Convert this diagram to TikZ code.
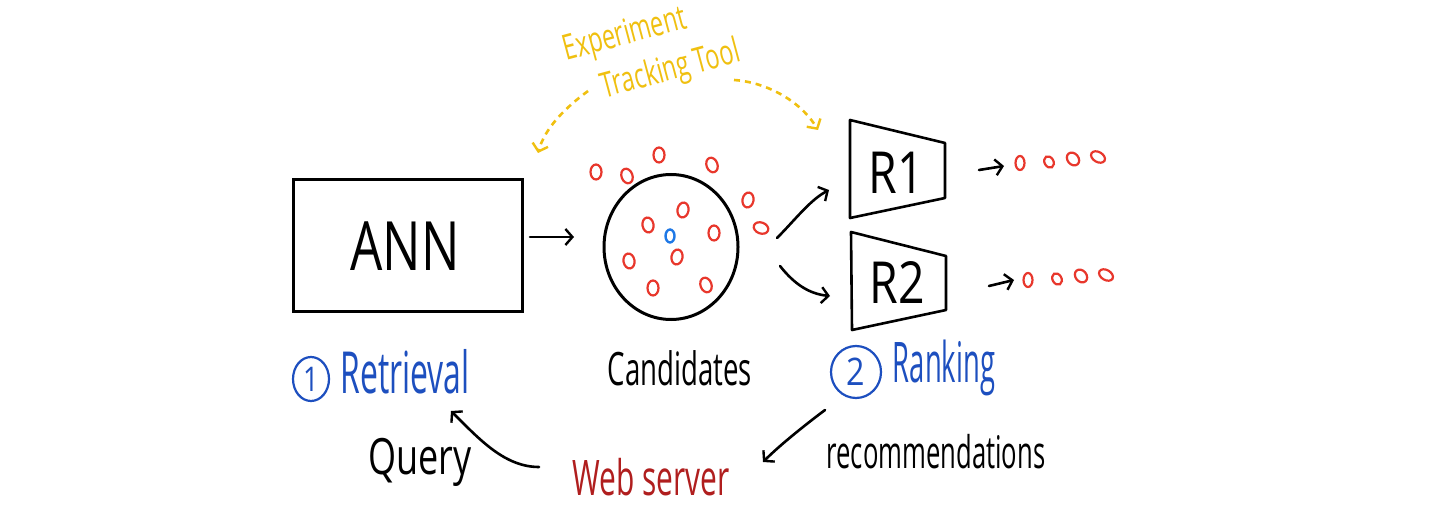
\documentclass[tikz,border=0pt]{standalone}
\usepackage{fontspec}
\usepackage{graphicx}
\setmainfont{Open Sans}
\usetikzlibrary{arrows.meta,shapes.geometric}
\definecolor{dotred}{HTML}{E8372C}
\definecolor{dotblue}{HTML}{1E78E6}
\definecolor{labblue}{HTML}{1D4FBF}
\definecolor{trackyellow}{HTML}{F0C010}
\definecolor{webred}{HTML}{B01E1E}
\newcommand\hwtext[3]{\fontsize{#1}{#1}\selectfont\scalebox{#2}[1]{#3}}
\tikzset{
  pen/.style={line width=2.6pt, line cap=round, line join=round},
  arr/.style={pen, -{Straight Barb[length=7pt,width=16pt,line width=2.4pt]}},
  dasharr/.style={line width=2.6pt, trackyellow, dash pattern=on 6pt off 5pt, -{Straight Barb[length=7pt,width=16pt,line width=2.4pt]}},
  dot/.style={line width=2.2pt, dotred},
  lab/.style={inner sep=0pt, anchor=center},
  numcirc/.style={ellipse, draw=labblue, line width=2.2pt, text=labblue, inner sep=0pt}
}
\begin{document}
\begin{tikzpicture}[x=1pt,y=-1pt]
\fill[white] (0,0) rectangle (1445,518);
\useasboundingbox (0,0) rectangle (1445,518);

% ANN box
\node[draw, line width=3pt, minimum width=229pt, minimum height=132pt, inner sep=0pt] (ann) at (407.5,246) {};
\node[lab] (anntext) at (405,246) {\hwtext{68}{0.75}{ANN}};

% candidates circle
\node[ellipse, draw, line width=3pt, minimum width=134pt, minimum height=145pt, inner sep=0pt] (cand) at (671,247) {};
\node[lab] (candlab) at (680,368) {\hwtext{46}{0.6}{Candidates}};

% arrow ANN -> candidates
\coordinate (a1s) at (530,237);
\coordinate (a1e) at (574,237);
\draw[arr] (a1s) -- (a1e);

% red dots
\foreach \x/\y/\r in {596/172/0, 627/176/20, 659/155/0, 712/165/20, 748/200/-10, 761/228/70,
                      648/225/10, 683/210/-10, 714/233/0, 629/261/10, 677/257/-10, 653/288/0, 706/285/20}
  \draw[dot, rotate around={\r:(\x,\y)}] (\x,\y) ellipse (5.5pt and 7.5pt);
\draw[line width=2.4pt, dotblue] (670,236) ellipse (4.5pt and 6.5pt);

% rankers
\draw[pen] (850,120) -- (945,143) -- (945,198) -- (850,218) -- cycle;
\draw[pen] (851,232) -- (946,256) -- (946,310) -- (852,330) -- cycle;
\node[lab] (r1) at (896,173) {\hwtext{58}{0.8}{R1}};
\node[lab] (r2) at (897,283) {\hwtext{58}{0.8}{R2}};

% arrows candidates -> rankers
\coordinate (c2r1s) at (777,238);
\coordinate (c2r1e) at (829,190);
\coordinate (c2r2s) at (780,266);
\coordinate (c2r2e) at (830,296);
\draw[arr] (c2r1s) .. controls (795,220) and (810,200) .. (c2r1e);
\draw[arr] (c2r2s) .. controls (795,285) and (810,294) .. (c2r2e);

% outputs
\coordinate (o1s) at (979,170);
\coordinate (o1e) at (1004,166);
\coordinate (o2s) at (989,286);
\coordinate (o2e) at (1014,280);
\draw[arr] (o1s) -- (o1e);
\draw[arr] (o2s) -- (o2e);
\foreach \x/\y/\r/\a/\b in {1020/163/0/4.5/7, 1049/162/30/4.5/6, 1073/159/40/5.5/7, 1098/157/60/5/7.5,
                            1028/280/0/4.5/7, 1057/279/30/4.5/6, 1081/276/40/5.5/7, 1106/275/60/5/7.5}
  \draw[dot, rotate around={\r:(\x,\y)}] (\x,\y) ellipse (\a pt and \b pt);

% stage labels
\node[numcirc, minimum width=36pt, minimum height=44pt] (n1) at (311,379) {\hwtext{34}{0.8}{1}};
\node[lab, text=labblue] (retr) at (405,372) {\hwtext{58}{0.55}{Retrieval}};
\node[numcirc, minimum width=50pt, minimum height=52pt] (n2) at (856,372) {\hwtext{38}{0.85}{2}};
\node[lab, text=labblue] (rank) at (944,368) {\hwtext{56}{0.49}{Ranking}};

% experiment tracking tool
\node[lab, text=trackyellow, rotate=15] (ett) at (652,52)
  {\fontsize{35}{46}\selectfont\scalebox{0.67}[1]{\begin{tabular}{@{}l@{}}Experiment\\\hspace*{40pt}Tracking Tool\end{tabular}}};
\coordinate (dl1) at (588,91);
\coordinate (dl2) at (538,153);
\coordinate (dr1) at (734,80);
\coordinate (dr2) at (818,130);
\draw[dasharr] (dl1) .. controls (565,108) and (545,128) .. (dl2);
\draw[dasharr] (dr1) .. controls (765,82) and (800,100) .. (dr2);

% bottom: web server loop
\node[lab, text=webred] (web) at (651,477) {\hwtext{49}{0.61}{Web server}};
\node[lab] (query) at (420,462) {\hwtext{50}{0.72}{Query}};
\node[lab] (recs) at (936,452) {\hwtext{45}{0.57}{recommendations}};
\coordinate (q1) at (539,467);
\coordinate (q2) at (451,411);
\draw[arr] (q1) .. controls (505,467) and (480,440) .. (q2);
\coordinate (w1) at (825,410);
\coordinate (w2) at (763,462);
\draw[arr] (w1) .. controls (805,425) and (780,445) .. (w2);
\end{tikzpicture}
\end{document}
